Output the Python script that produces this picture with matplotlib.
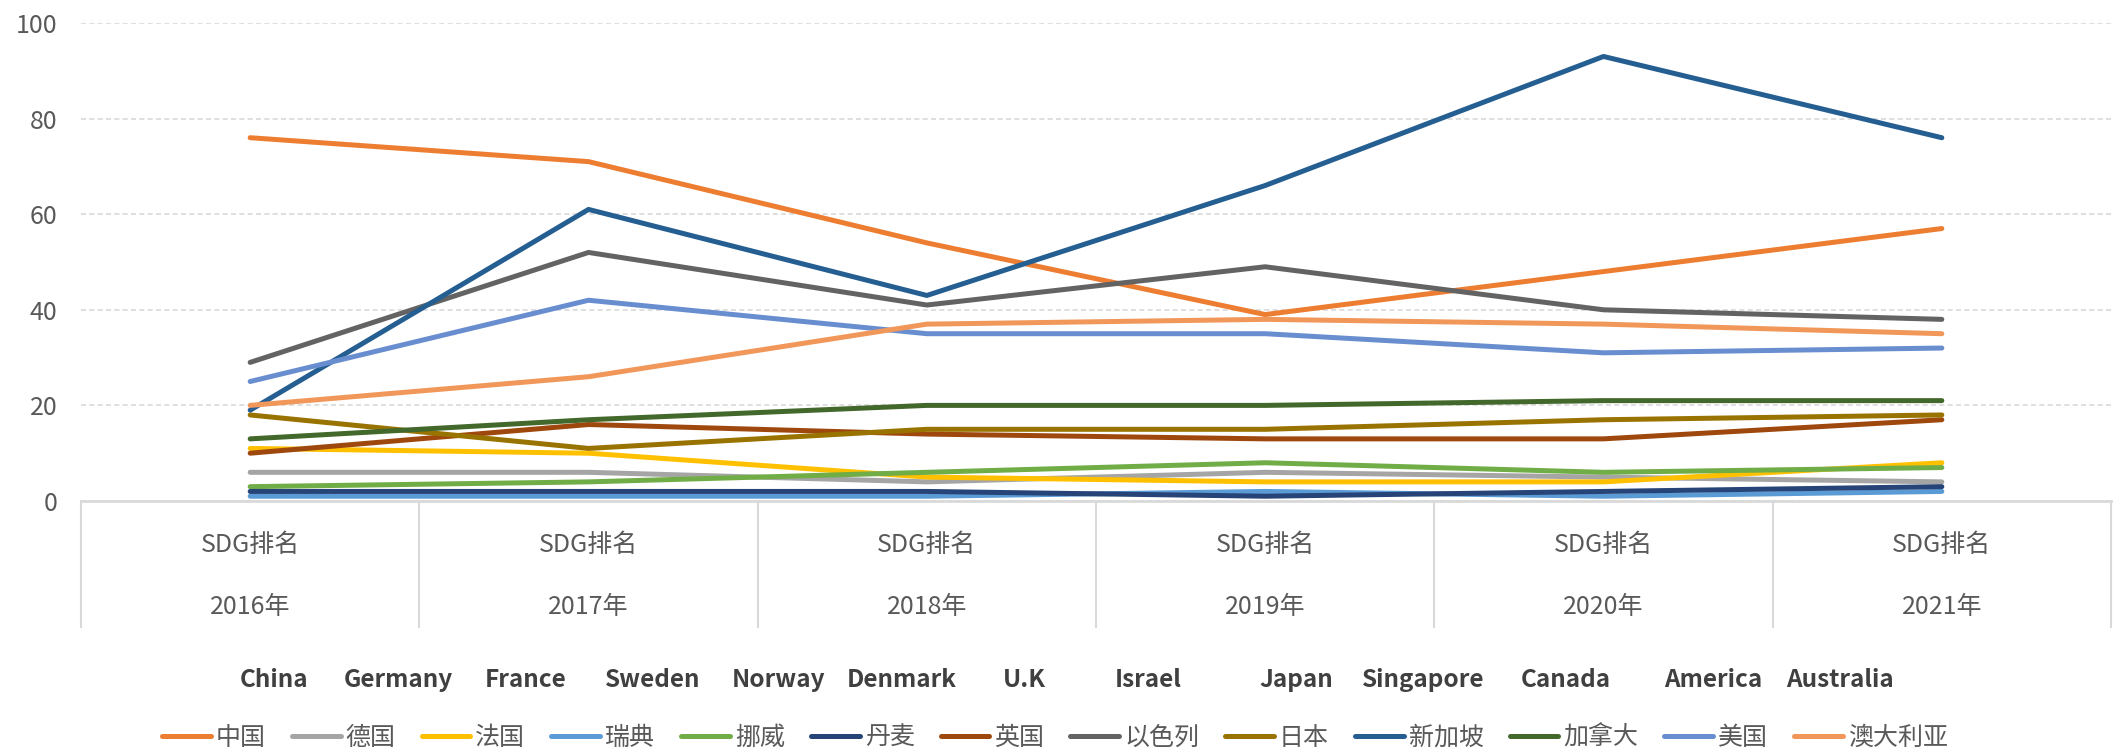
import matplotlib
matplotlib.use("Agg")
import matplotlib.pyplot as plt
import matplotlib.transforms as mtransforms

plt.rcParams['font.family'] = ['Noto Sans CJK SC', 'DejaVu Sans']

# ---------------- data ----------------
years = ["2016年", "2017年", "2018年", "2019年", "2020年", "2021年"]
metric = "SDG排名"
countries = ["中国", "德国", "法国", "瑞典", "挪威", "丹麦", "英国",
             "以色列", "日本", "新加坡", "加拿大", "美国", "澳大利亚"]
english_names = ["China", "Germany", "France", "Sweden", "Norway", "Denmark", "U.K",
                 "Israel", "Japan", "Singapore", "Canada", "America", "Australia"]

china     = [76, 71, 54, 39, 48, 57]
germany   = [6, 6, 4, 6, 5, 4]
france    = [11, 10, 5, 4, 4, 8]
sweden    = [1, 1, 1, 2, 1, 2]
norway    = [3, 4, 6, 8, 6, 7]
denmark   = [2, 2, 2, 1, 2, 3]
uk        = [10, 16, 14, 13, 13, 17]
israel    = [29, 52, 41, 49, 40, 38]
japan     = [18, 11, 15, 15, 17, 18]
singapore = [19, 61, 43, 66, 93, 76]
canada    = [13, 17, 20, 20, 21, 21]
america   = [25, 42, 35, 35, 31, 32]
australia = [20, 26, 37, 38, 37, 35]

series = [china, germany, france, sweden, norway, denmark, uk,
          israel, japan, singapore, canada, america, australia]
colors = ["#ED7D31", "#A5A5A5", "#FFC000", "#5B9BD5", "#70AD47", "#264478",
          "#9E480E", "#636363", "#997300", "#255E91", "#43682B", "#698ED0", "#F1975A"]

yticks = [0, 20, 40, 60, 80, 100]

# ---------------- layout ----------------
W, H = 2125, 753
fig = plt.figure(figsize=(W / 100, H / 100), dpi=100)
ax = fig.add_axes([81 / W, 1 - 501 / H, (2111 - 81) / W, (501 - 23) / H])

x = list(range(len(years)))
lines = []
for name, vals, c in zip(countries, series, colors):
    ln, = ax.plot(x, vals, color=c, lw=3.6, solid_capstyle='round',
                  solid_joinstyle='round', label=name)
    lines.append(ln)

ax.set_xlim(-0.5, len(years) - 0.5)
ax.set_ylim(0, 100)
ax.set_yticks(yticks)
ax.set_yticklabels([str(v) for v in yticks])
ax.tick_params(axis='y', length=0, pad=17, labelsize=18, labelcolor="#595959")
ax.set_xticks([])
for s in ['top', 'right', 'left']:
    ax.spines[s].set_visible(False)
ax.spines['bottom'].set_color("#D9D9D9")
ax.spines['bottom'].set_linewidth(2)
ax.grid(axis='y', color="#D9D9D9", linestyle=(0, (3, 2)), linewidth=1.2)
ax.set_axisbelow(True)

# category table under the axis
trans = mtransforms.blended_transform_factory(ax.transData, ax.transAxes)
ah = 501 - 23
for i in range(len(years) + 1):
    ax.plot([i - 0.5, i - 0.5], [0, (501 - 627) / ah], transform=trans,
            color="#D9D9D9", lw=1.5, clip_on=False)
for i, yr in enumerate(years):
    ax.text(i, (501 - 545) / ah, metric, transform=trans, ha='center', va='center',
            fontsize=18, color="#595959")
    ax.text(i, (501 - 607) / ah, yr, transform=trans, ha='center', va='center',
            fontsize=18, color="#595959")

# English names row
name_x = [274, 398, 526, 653, 779, 902, 1024, 1148, 1296, 1423, 1566, 1713, 1840]
for nm, px in zip(english_names, name_x):
    fig.text(px / W, 1 - 680 / H, nm, ha='center', va='center', fontsize=17.5,
             color="#404040", fontweight='bold')

# legend
leg = fig.legend(lines, countries, loc='center', bbox_to_anchor=(1055 / W, 1 - 738 / H),
                 ncol=len(countries), frameon=False, fontsize=18,
                 handlelength=1.95, handletextpad=0.2, columnspacing=1.04,
                 borderaxespad=0, borderpad=0)
for t in leg.get_texts():
    t.set_color("#595959")

fig.savefig("out.png", dpi=100)
